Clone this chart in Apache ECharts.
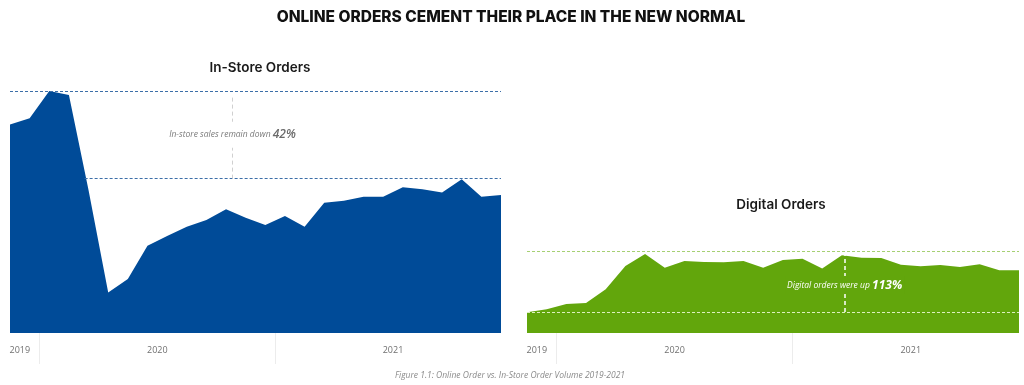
<!DOCTYPE html>
<html>
<head>
<meta charset="utf-8">
<script src="https://cdn.jsdelivr.net/npm/echarts@6/dist/echarts.min.js"></script>
<style>
html,body{margin:0;padding:0;background:#fff;}
#chart{width:1024px;height:385px;}
</style>
</head>
<body>
<div id="chart"></div>
<script>
// ---- data ----
var months = ['2019-11','2019-12',
  '2020-01','2020-02','2020-03','2020-04','2020-05','2020-06','2020-07','2020-08','2020-09','2020-10','2020-11','2020-12',
  '2021-01','2021-02','2021-03','2021-04','2021-05','2021-06','2021-07','2021-08','2021-09','2021-10','2021-11','2021-12'];
var inStore = [86.2, 88.7, 100, 98.3, 59, 16.7, 22.3, 36.1, 40.1, 43.9, 46.7, 51.1, 47.6, 44.6,
  48.3, 43.9, 53.8, 54.7, 56.3, 56.3, 60.2, 59.4, 58.1, 63.5, 56.3, 57.0];
var digital = [8.6, 9.8, 12.0, 12.4, 18.1, 27.7, 32.6, 27.0, 29.8, 29.3, 29.2, 29.8, 27.0,
  30.2, 30.7, 26.7, 32.1, 31.1, 31.0, 28.2, 27.6, 28.1, 27.3, 28.4, 25.9, 25.9];
var inStoreRefs = [100, 63.8];       // upper (pre-pandemic peak), lower (current level)
var digitalRefs = [8.7, 33.6];       // lower (pre-pandemic), upper (current level)
var inStoreNote = ['In-store sales remain down ', '42%'];
var digitalNote = ['Digital orders were up ', '113%'];
var titles = ['ONLINE ORDERS CEMENT THEIR PLACE IN THE NEW NORMAL', 'In-Store Orders', 'Digital Orders'];
var caption = 'Figure 1.1: Online Order vs. In-Store Order Volume 2019-2021';

// ---- derive year groups from months ----
var years = [], yearStart = {}, yearEnd = {};
months.forEach(function (m, i) {
  var y = m.slice(0, 4);
  if (!(y in yearStart)) { years.push(y); yearStart[y] = i; }
  yearEnd[y] = i;
});
var yearMid = years.map(function (y) { return (yearStart[y] + yearEnd[y]) / 2; });
var yearBounds = years.slice(1).map(function (y) { return yearStart[y] - 0.5; });
function yearFor(v) {
  for (var k = 0; k < years.length; k++) if (Math.abs(yearMid[k] - v) < 1e-6) return years[k];
  return '';
}
function pairs(arr) { return arr.map(function (v, i) { return [i, v]; }); }

var chart = echarts.init(document.getElementById('chart'), null, {renderer: 'canvas'});
var labelFont = 'Open Sans';
function xAxisFor(gi) {
  return {
    type: 'value', gridIndex: gi, min: 0, max: months.length - 1,
    axisLine: {show: false},
    splitLine: {show: false},
    axisTick: {show: true, customValues: yearBounds, length: 31, lineStyle: {color: '#ececec', width: 1}},
    axisLabel: {show: true, customValues: yearMid, formatter: yearFor, margin: 13,
      color: '#707070', fontSize: 9, fontFamily: labelFont}
  };
}
function yAxisFor(gi) {
  return {type: 'value', gridIndex: gi, min: 0, max: 100, show: false, splitLine: {show: false}};
}

var inStoreX = 11.33, digitalX = 16.14;
var blueDash = {type: [3, 2], color: '#3c6ea8', width: 1};
var greenDash = {type: [3, 2], color: '#a6d073', width: 1};

var option = {
  backgroundColor: '#fff',
  animation: false,
  title: [
    {text: titles[0], left: 506, textAlign: 'center', top: 4,
      textStyle: {fontFamily: 'Inter', fontWeight: 800, fontSize: 15.5, color: '#111'}},
    {text: titles[1], left: 255, textAlign: 'center', top: 56,
      textStyle: {fontFamily: 'Inter', fontWeight: 600, fontSize: 13.5, color: '#1a1a1a'}},
    {text: titles[2], left: 776, textAlign: 'center', top: 193,
      textStyle: {fontFamily: 'Inter', fontWeight: 600, fontSize: 13.5, color: '#1a1a1a'}},
    {text: caption, left: 505, textAlign: 'center', top: 366,
      textStyle: {fontFamily: labelFont, fontStyle: 'italic', fontWeight: 'normal', fontSize: 8.5, color: '#8a8a8a'}}
  ],
  grid: [
    {left: 10, right: 523, top: 91, bottom: 52},
    {left: 527, right: 5, top: 91, bottom: 52}
  ],
  xAxis: [xAxisFor(0), xAxisFor(1)],
  yAxis: [yAxisFor(0), yAxisFor(1)],
  series: [
    {
      type: 'line', name: 'In-Store', xAxisIndex: 0, yAxisIndex: 0,
      data: pairs(inStore), symbol: 'none', smooth: false,
      lineStyle: {width: 0}, areaStyle: {color: '#004b98', opacity: 1}, z: 2,
      markLine: {
        silent: true, symbol: 'none', z: 5,
        label: {show: false},
        lineStyle: blueDash,
        data: [
          [{coord: [0, inStoreRefs[0]], lineStyle: blueDash}, {coord: [months.length - 1, inStoreRefs[0]]}],
          [{coord: [3.8, inStoreRefs[1]], lineStyle: blueDash}, {coord: [months.length - 1, inStoreRefs[1]]}],
          [{coord: [inStoreX, inStoreRefs[1]], lineStyle: {color: '#d0d0d0', type: [4, 3], width: 1}},
           {coord: [inStoreX, inStoreRefs[0] - 2]}]
        ]
      },
      markPoint: {
        silent: true, symbol: 'circle', symbolSize: 0, z: 6,
        data: [{coord: [inStoreX, (inStoreRefs[0] + inStoreRefs[1]) / 2]}],
        label: {
          show: true, position: 'inside',
          formatter: '{a|' + inStoreNote[0] + '}{b|' + inStoreNote[1] + '}',
          backgroundColor: '#fff', padding: [7, 3],
          rich: {
            a: {fontFamily: labelFont, fontStyle: 'italic', fontSize: 8.5, color: '#7a7a7a'},
            b: {fontFamily: labelFont, fontStyle: 'italic', fontWeight: 600, fontSize: 12, color: '#6a6a6a'}
          }
        }
      }
    },
    {
      type: 'line', name: 'Digital', xAxisIndex: 1, yAxisIndex: 1,
      data: pairs(digital), symbol: 'none', smooth: false,
      lineStyle: {width: 0}, areaStyle: {color: '#62a60c', opacity: 1}, z: 2,
      markLine: {
        silent: true, symbol: 'none', z: 5,
        label: {show: false},
        lineStyle: greenDash,
        data: [
          [{coord: [0, digitalRefs[0]], lineStyle: {type: [3, 2], color: '#dcefc0', width: 1}},
           {coord: [months.length - 1, digitalRefs[0]]}],
          [{coord: [0, digitalRefs[1]], lineStyle: greenDash}, {coord: [months.length - 1, digitalRefs[1]]}],
          [{coord: [digitalX, digitalRefs[0]], lineStyle: {color: '#ffffff', type: [4, 3], width: 1.5}},
           {coord: [digitalX, digitalRefs[1] - 1]}]
        ]
      },
      markPoint: {
        silent: true, symbol: 'circle', symbolSize: 0, z: 6,
        data: [{coord: [digitalX, 19.8]}],
        label: {
          show: true, position: 'inside',
          formatter: '{a|' + digitalNote[0] + '}{b|' + digitalNote[1] + '}',
          backgroundColor: '#62a60c', padding: [3, 2],
          rich: {
            a: {fontFamily: labelFont, fontStyle: 'italic', fontSize: 8.5, color: '#ffffff'},
            b: {fontFamily: labelFont, fontStyle: 'italic', fontWeight: 700, fontSize: 12, color: '#ffffff'}
          }
        }
      }
    }
  ]
};
chart.setOption(option);
</script>
</body>
</html>
